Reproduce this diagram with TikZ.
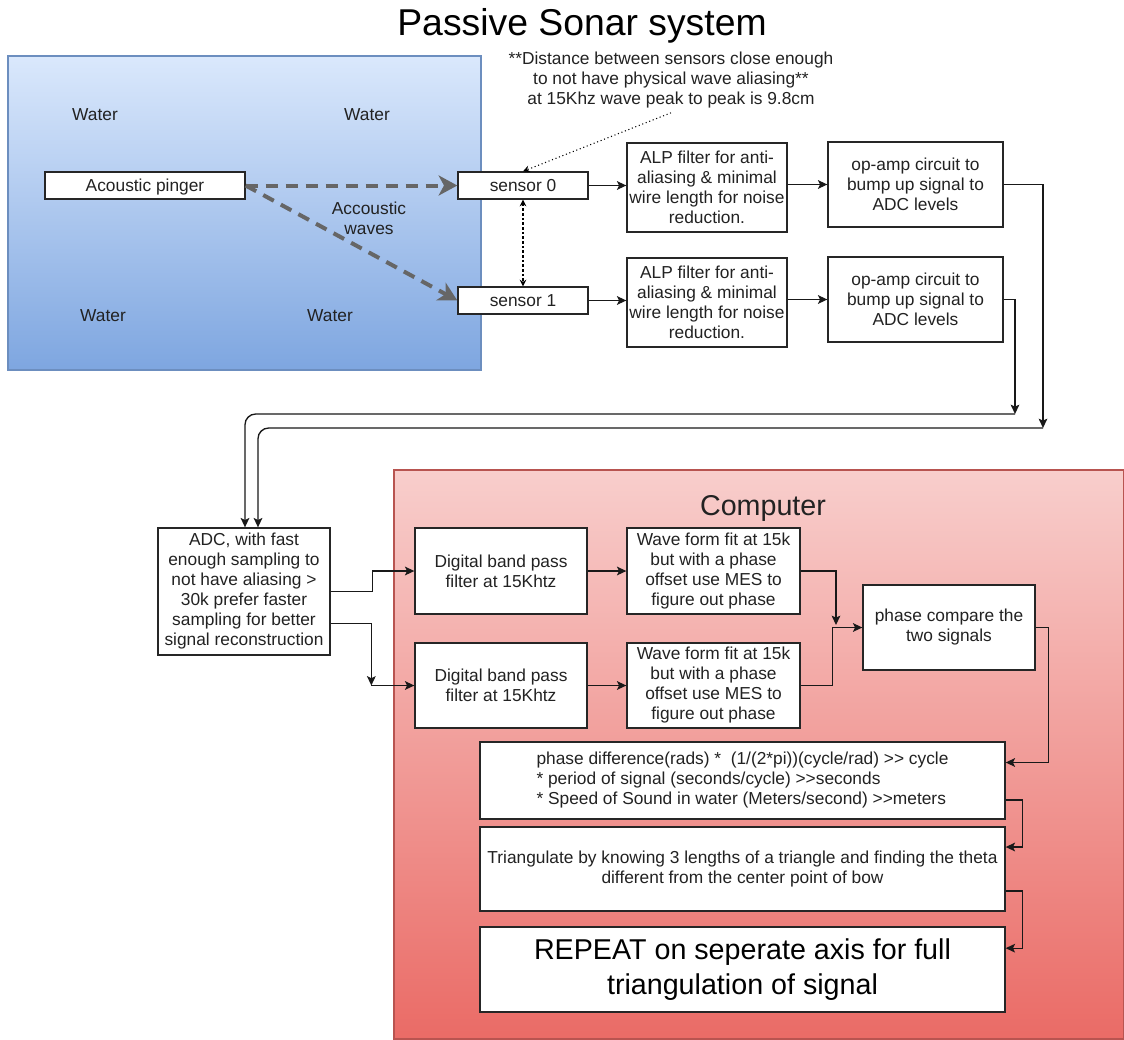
\documentclass[tikz,border=0pt]{standalone}
\usepackage{fontspec}
\setmainfont{Liberation Sans}
\usetikzlibrary{arrows.meta}
\definecolor{waterTop}{HTML}{DAE8FC}
\definecolor{waterBot}{HTML}{7EA6E0}
\definecolor{waterLine}{HTML}{6C8EBF}
\definecolor{pcTop}{HTML}{F8CECC}
\definecolor{pcBot}{HTML}{EA6B66}
\definecolor{pcLine}{HTML}{B85450}
\definecolor{ink}{HTML}{222222}
\definecolor{wavegray}{HTML}{666666}

\tikzset{
  box/.style={draw=black!85, line width=1pt, fill=white, inner sep=0pt, align=center},
  oneline/.style={text depth=0pt},
  sz/.style 2 args={minimum width=#1*0.75pt, minimum height=#2*0.75pt},
  arr/.style={draw=black!90, line width=1pt, -{Stealth[length=7pt,width=6.5pt,inset=1.5pt]}},
  wavearr/.style={draw=wavegray, line width=3pt, dash pattern=on 9pt off 6pt,
    -{Stealth[length=14pt,width=15pt,inset=4pt]}},
  bigtext/.style={font=\fontsize{21.5}{26}\selectfont},
}

\begin{document}
\begin{tikzpicture}[x=0.75pt,y=-0.75pt,
  every node/.style={font=\fontsize{13}{15}\selectfont, text=ink}]
% canvas
\useasboundingbox[fill=white] (0,0) rectangle (1124,1039);

% regions
\shade[top color=waterTop, bottom color=waterBot, draw=waterLine, line width=1pt]
  (8,56) rectangle (481,370);
\shade[top color=pcTop, bottom color=pcBot, draw=pcLine, line width=1pt]
  (394,470) rectangle (1124,1039);

% title and region labels
\node[font=\fontsize{28}{32}\selectfont, text=black, anchor=base] (title) at (582,35) {Passive Sonar system};
\node (w1) at (95,115) {Water};
\node (w2) at (367,115) {Water};
\node (w3) at (103,316) {Water};
\node (w4) at (330,316) {Water};
\node[align=center] (waves) at (369,218) {Accoustic\\waves};
\node[bigtext] (comp) at (763,508) {Computer};
\node[align=center] (note) at (671,80) {**Distance between sensors close enough\\to not have physical wave aliasing**\\at 15Khz wave peak to peak is 9.8cm};

% sensing chain
\node[box, oneline, sz={200}{27}] (pinger) at (145,185.5) {Acoustic pinger};
\node[box, oneline, sz={130}{27}] (s0) at (523,185.5) {sensor 0};
\node[box, oneline, sz={130}{27}] (s1) at (523,300.5) {sensor 1};
\node[box, sz={160}{89}] (alp0) at (707,187.5) {ALP filter for anti-\\aliasing \& minimal\\wire length for noise\\reduction.};
\node[box, sz={160}{89}] (alp1) at (707,302.5) {ALP filter for anti-\\aliasing \& minimal\\wire length for noise\\reduction.};
\node[box, sz={175}{85}] (op0) at (915.5,184.5) {op-amp circuit to\\bump up signal to\\ADC levels};
\node[box, sz={175}{85}] (op1) at (915.5,299.5) {op-amp circuit to\\bump up signal to\\ADC levels};

% digital chain
\node[box, sz={172}{127}] (adc) at (244,591.5) {ADC, with fast\\enough sampling to\\not have aliasing >\\30k prefer faster\\sampling for better\\signal reconstruction};
\node[box, sz={172}{86}] (dbp0) at (501,571) {Digital band pass\\filter at 15Khtz};
\node[box, sz={172}{85}] (dbp1) at (501,685.5) {Digital band pass\\filter at 15Khtz};
\node[box, sz={173}{86}] (wf0) at (713.5,571) {Wave form fit at 15k\\but with a phase\\offset use MES to\\figure out phase};
\node[box, sz={173}{85}] (wf1) at (713.5,685.5) {Wave form fit at 15k\\but with a phase\\offset use MES to\\figure out phase};
\node[box, sz={172}{85}] (pc) at (949,627.5) {phase compare the\\two signals};
\node[box, sz={525}{77}, align=left] (pd) at (742.5,780.5) {phase difference(rads) *~ (1/(2*pi))(cycle/rad) >{}> cycle\\* period of signal (seconds/cycle) >{}>seconds\\* Speed of Sound in water (Meters/second) >{}>meters};
\node[box, sz={525}{84}] (tri) at (742.5,869) {Triangulate by knowing 3 lengths of a triangle and finding the theta\\different from the center point of bow};
\node[box, sz={525}{85}, bigtext, text=black] (rep) at (742.5,969.5) {REPEAT on seperate axis for full\\triangulation of signal};

% acoustic paths
\draw[wavearr] (pinger.east) -- (s0.west);
\draw[wavearr] (pinger.east) -- (s1.west);
\draw[line width=0.8pt, dotted, -{Stealth[length=5pt,width=5pt]}] (note.south) -- (s0.north);
\draw[line width=0.8pt, dash pattern=on 2pt off 1.5pt,
  {Stealth[length=5pt,width=5pt]}-{Stealth[length=5pt,width=5pt]}] (s0.south) -- (s1.north);

% analog connectors
\draw[arr] (s0.east) -- (s0.east -| alp0.west);
\draw[arr] (s1.east) -- (s1.east -| alp1.west);
\draw[arr] (alp0.east |- op0.west) -- (op0.west);
\draw[arr] (alp1.east |- op1.west) -- (op1.west);

\coordinate (j0) at (1043,428);
\coordinate (j1) at (1015,414);
\coordinate (a0) at ([xshift=10.5pt]adc.north);
\coordinate (a1) at ([xshift=0.75pt]adc.north);
\draw[arr] (op0.east) -| (j0);
\draw[arr, rounded corners=8pt] (j0) -| (a0);
\draw[arr] (op1.east) -| (j1);
\draw[arr, rounded corners=8pt] (j1) -| (a1);

% digital connectors
\draw[arr] (adc.east) -- ++(42,0) |- (dbp0.west);
\coordinate (k1) at ([xshift=-32.25pt]dbp1.west);
\draw[arr] ([yshift=-24pt]adc.east) -| (k1);
\draw[arr] (k1) -- (dbp1.west);
\draw[arr] (dbp0.east) -- (wf0.west);
\draw[arr] (dbp1.east) -- (wf1.west);
\coordinate (m0) at (836,625);
\draw[arr] (wf0.east) -| (m0);
\draw[arr] (wf1.east) -- ++(32,0) |- (pc.west);
\draw[arr] (pc.east) -- ++(13,0) |- ([yshift=13.5pt]pd.east);
\draw[arr] ([yshift=-14.6pt]pd.east) -- ++(17,0) |- ([yshift=16.5pt]tri.east);
\draw[arr] ([yshift=-16.5pt]tri.east) -- ++(17,0) |- ([yshift=16pt]rep.east);
\end{tikzpicture}
\end{document}
